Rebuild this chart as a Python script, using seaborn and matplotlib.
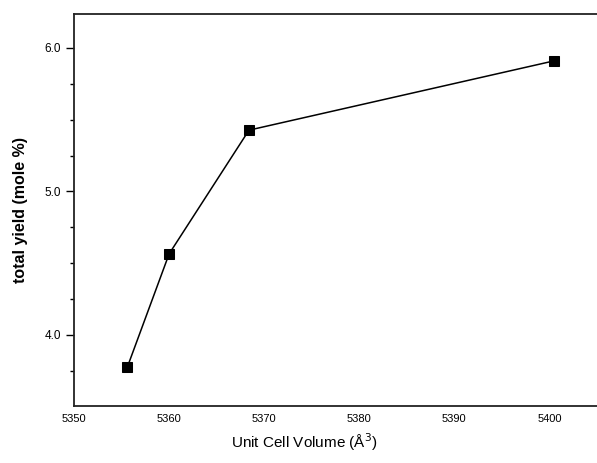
"""
Total yield against unit cell volume.
"""

import pandas as pd
import seaborn as sns
import matplotlib
matplotlib.use('Agg')
import matplotlib.pyplot as plt
from matplotlib import ticker as mticker


########  data  ########

VOLUME = [5355.6, 5360.0, 5368.4, 5400.5]
YIELD = [3.775, 4.565, 5.427, 5.91]

XTICKS = [5350, 5360, 5370, 5380, 5390, 5400]
YTICKS = [4.0, 5.0, 6.0]

########################


df = pd.DataFrame({'volume': VOLUME, 'yield': YIELD})

sns.set_style('white')
plt.rcParams['font.family'] = ['Liberation Sans', 'DejaVu Sans']
plt.rcParams['text.color'] = 'black'
plt.rcParams['axes.labelcolor'] = 'black'
plt.rcParams['xtick.color'] = 'black'
plt.rcParams['ytick.color'] = 'black'

fig = plt.figure(figsize=(5.97, 4.63), dpi=100)
ax = fig.add_axes([0.124, 0.123, 0.876, 0.847])

sns.lineplot(data=df, x='volume', y='yield', ax=ax,
             color='black', linewidth=1.1,
             marker='s', markersize=6.5, markeredgecolor='black',
             markerfacecolor='black')

# aesthetics
ax.set_xlim(5350, 5405)
ax.set_ylim(3.505, 6.237)
ax.set_xticks(XTICKS)
ax.set_yticks(YTICKS)
ax.yaxis.set_major_formatter(mticker.FormatStrFormatter('%.1f'))
ax.yaxis.set_minor_locator(mticker.MultipleLocator(0.25))
ax.tick_params(axis='y', which='major', direction='out', length=6,
               width=1, color='black', labelsize=8.5, left=True)
ax.tick_params(axis='y', which='minor', direction='out', length=3,
               width=1, color='black', left=True)
ax.tick_params(axis='x', which='major', length=0, labelsize=8, pad=6)

for side in ['left', 'top', 'bottom']:
    ax.spines[side].set_visible(True)
    ax.spines[side].set_color('#222222')
    ax.spines[side].set_linewidth(1.3)
ax.spines['right'].set_visible(False)

ax.set_ylabel('total yield (mole %)', fontsize=11.5, fontweight='bold',
              labelpad=12)
ax.set_xlabel('Unit Cell Volume (Å$^3$)', fontsize=11)
ax.xaxis.set_label_coords(0.44, -0.065)
ax.grid(False)

plt.savefig('out.png', dpi=100)
plt.close()
